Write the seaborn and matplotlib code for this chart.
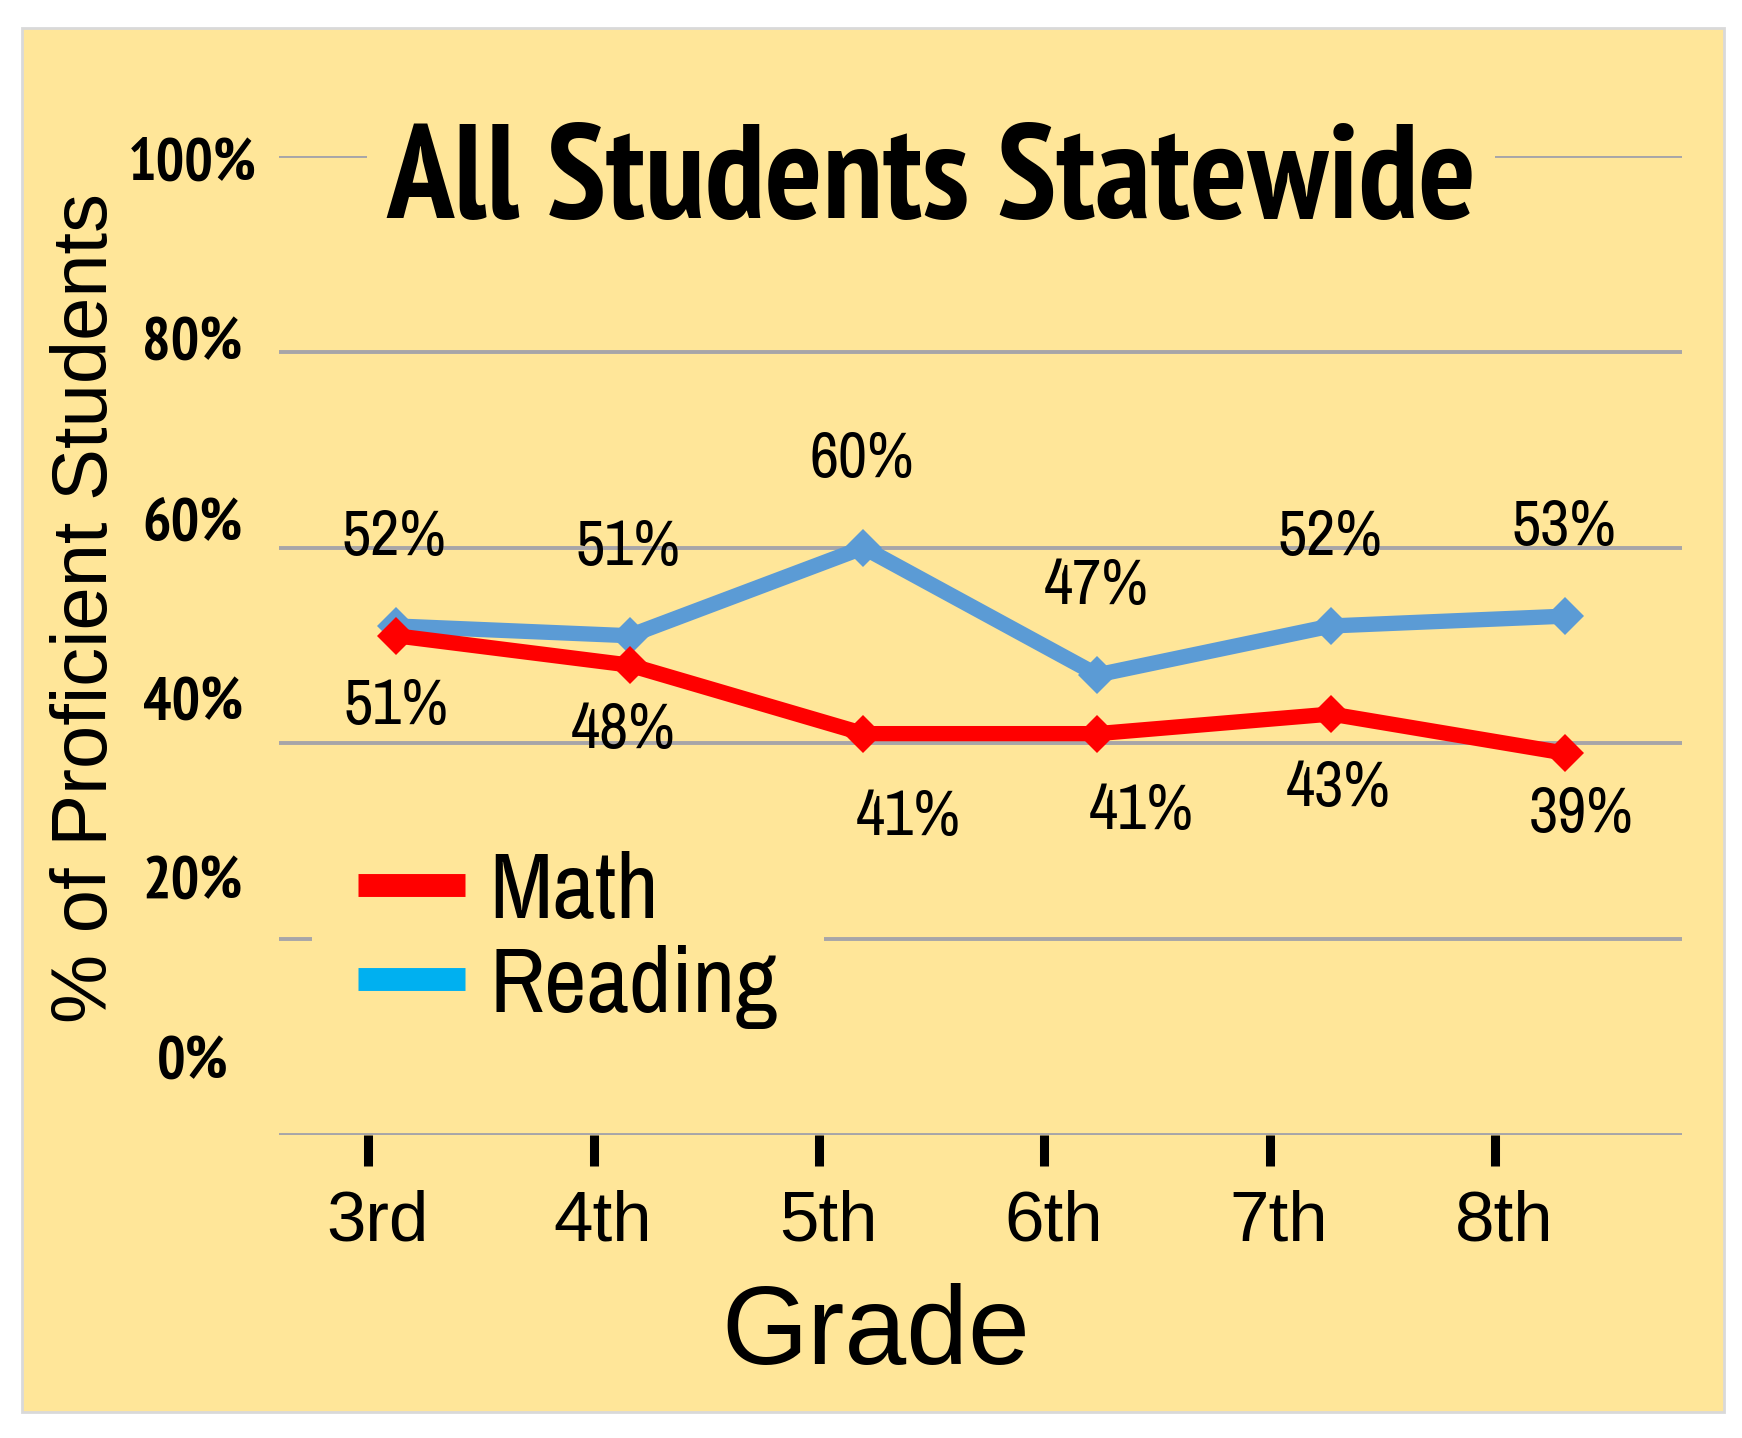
import matplotlib
matplotlib.use("Agg")
import matplotlib.pyplot as plt
import matplotlib.patches as mpatches
import matplotlib.transforms as mtransforms
from matplotlib import font_manager as fm
from matplotlib.lines import Line2D
import numpy as np
import pandas as pd
import seaborn as sns

# values
grades = ["3rd", "4th", "5th", "6th", "7th", "8th"]
math_pct = [51, 48, 41, 41, 43, 39]
reading_pct = [52, 51, 60, 47, 52, 53]
y_tick_labels = ["0%", "20%", "40%", "60%", "80%", "100%"]

BG = "#FFE699"
GRID = "#A7A5A8"
RED = "#FF0000"
BLUE_LINE = "#5B9BD5"
BLUE_LEGEND = "#00B0F0"
SANS = ["Liberation Sans", "DejaVu Sans"]


def pick_family(candidates, weight):
    """First installed family among candidates that has the given weight."""
    for name in candidates:
        for f in fm.fontManager.ttflist:
            w = f.weight if isinstance(f.weight, int) else fm.weight_dict.get(f.weight, 400)
            if f.name == name and f.style == "normal" and w == weight:
                return [name] + SANS
    return SANS


NARROW_CANDIDATES = ["Liberation Sans Narrow", "Arial Narrow", "Archivo Narrow",
                     "PT Sans Narrow", "Roboto Condensed", "Sofia Sans Condensed"]
NARROW = pick_family(NARROW_CANDIDATES, 400)
NARROW_BOLD = pick_family(NARROW_CANDIDATES, 700)

sns.set_style("white")
plt.rcParams["font.family"] = SANS
plt.rcParams["text.color"] = "black"
plt.rcParams["axes.labelcolor"] = "black"
plt.rcParams["xtick.color"] = "black"
plt.rcParams["ytick.color"] = "black"

df = pd.DataFrame({
    "grade": grades * 2,
    "pct": reading_pct + math_pct,
    "subject": ["Reading"] * len(grades) + ["Math"] * len(grades),
})

fig = plt.figure(figsize=(17.42, 14.38), dpi=100, facecolor="white")
fig.patches.append(mpatches.Rectangle((22 / 1742, 1 - 1412 / 1438), 1702 / 1742, 1384 / 1438,
                                      transform=fig.transFigure, facecolor=BG,
                                      edgecolor="#D9D9D9", lw=2, zorder=-5))
ax = fig.add_axes([0.160, 0.2107, 0.8056, 0.6808])
ax.set_zorder(1)
ax.set_facecolor("none")

sns.lineplot(data=df, x="grade", y="pct", hue="subject", hue_order=["Reading", "Math"],
             palette={"Reading": BLUE_LINE, "Math": RED}, marker="D", markersize=19,
             markeredgewidth=0, linewidth=11, sort=False, legend=False, ax=ax, zorder=3)

ax.set_xlim(-0.5, 5.5)
ax.set_ylim(0, 100)
for s in ax.spines.values():
    s.set_visible(False)

# gridlines
ax.hlines(np.arange(0, 101, 20), -0.5, 5.5, colors=GRID, lw=2.8, zorder=0.5)

# data labels
for i, v in enumerate(reading_pct):
    ax.annotate(f"{v}%", (i, v), xytext=(-1, 64), textcoords="offset points",
                ha="center", va="center", fontsize=46, family=NARROW)
math_dx = [0, -6, 45, 44, 7, 16]
math_dy = [70, 65, 83, 77, 74, 61]
for i, v in enumerate(math_pct):
    ax.annotate(f"{v}%", (i, v), xytext=(math_dx[i] * 0.72, -math_dy[i] * 0.72),
                textcoords="offset points", ha="center", va="center",
                fontsize=46, family=NARROW)

# ticks (offset like in the source picture)
ax.set_xticks(np.arange(len(grades)) * 0.964 - 0.118)
ax.set_xticklabels(grades, fontsize=51, family=SANS)
ax.tick_params(axis="x", direction="out", length=22, width=6.5, color="black",
               pad=17, bottom=True)
shift = mtransforms.ScaledTranslation(0.09, 0, fig.dpi_scale_trans)
for t in ax.get_xticklabels():
    t.set_transform(t.get_transform() + shift)
ax.set_yticks(7.9 + 18.36 * np.arange(len(y_tick_labels)))
ax.set_yticklabels(y_tick_labels, fontsize=43, family=NARROW_BOLD, fontweight="bold")
ax.tick_params(axis="y", length=0, pad=62)
for t in ax.get_yticklabels():
    t.set_ha("center")

ax.set_xlabel("Grade", fontsize=80, family=SANS)
ax.xaxis.set_label_coords(0.4255, -0.234)
ax.xaxis.label.set_va("baseline")
ax.set_ylabel("% of Proficient Students", fontsize=56, family=SANS)
ax.yaxis.set_label_coords(-0.137, 0.538)
ax.yaxis.label.set_va("center")

ax.text(0.465, 0.9367, "All Students Statewide", transform=ax.transAxes, ha="center",
        va="baseline", fontsize=97, family=NARROW_BOLD, fontweight="bold", zorder=4,
        bbox=dict(facecolor=BG, edgecolor="none", pad=14))

handles = [Line2D([], [], color=RED, lw=16.5, solid_capstyle="butt"),
           Line2D([], [], color=BLUE_LEGEND, lw=16.5, solid_capstyle="butt")]
leg = ax.legend(handles, ["Math", "Reading"], loc="upper left", bbox_to_anchor=(0.0235, 0.338),
                borderaxespad=0, borderpad=0.5, handlelength=1.15, handletextpad=0.26,
                labelspacing=0.12, frameon=True, fancybox=False,
                prop={"family": NARROW, "size": 67})
leg.get_frame().set_facecolor(BG)
leg.get_frame().set_edgecolor("none")
leg.get_frame().set_alpha(1)

fig.savefig("out.png", dpi=100, facecolor="white")
